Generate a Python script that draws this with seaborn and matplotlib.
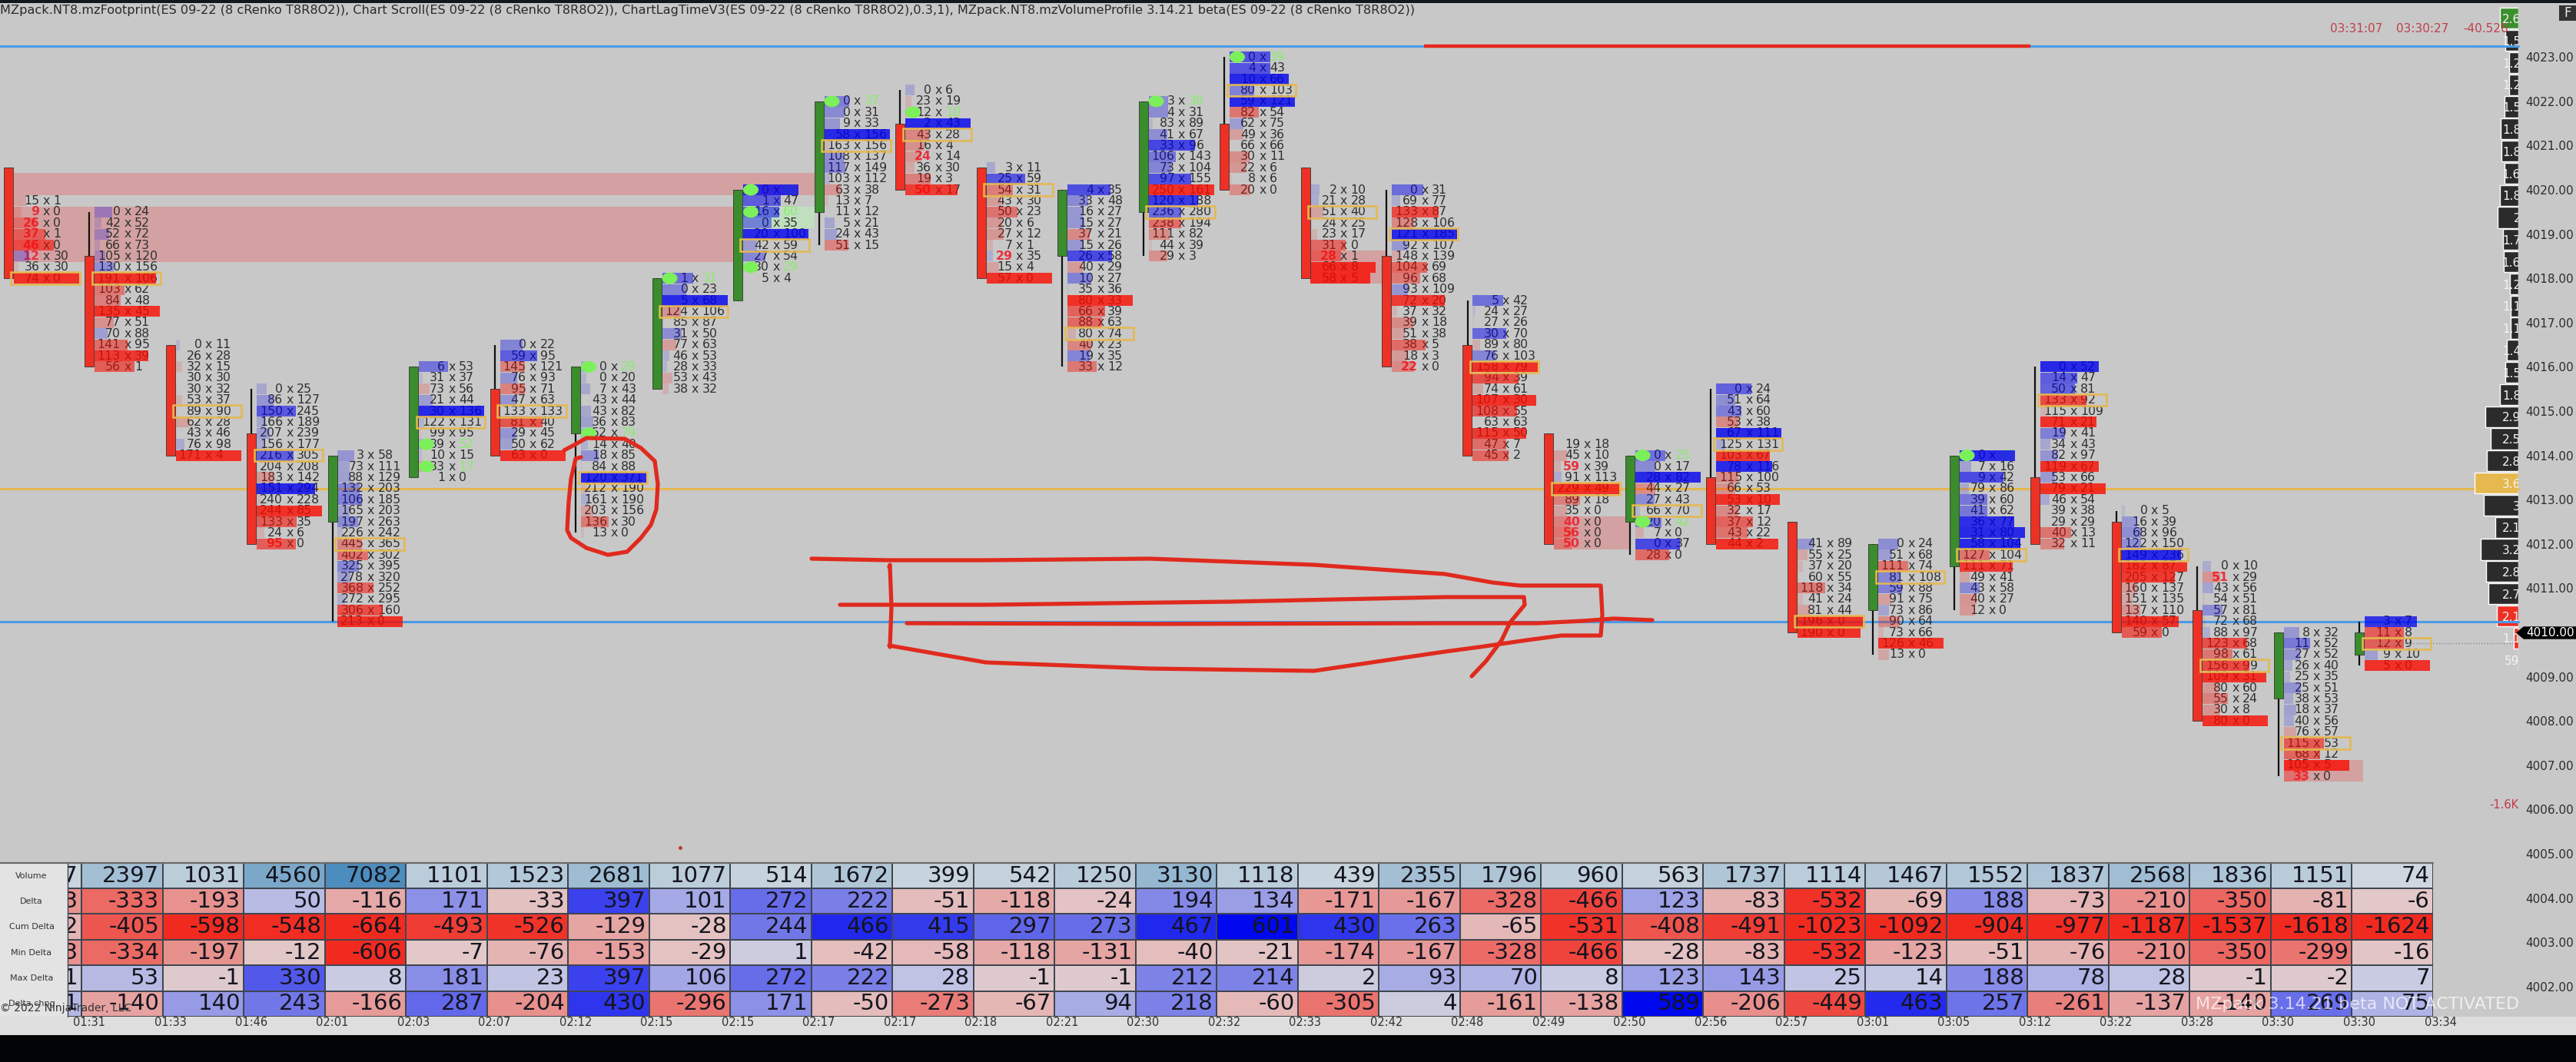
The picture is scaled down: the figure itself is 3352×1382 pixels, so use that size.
import numpy as np
import pandas as pd
import matplotlib
matplotlib.use("Agg")
import matplotlib.pyplot as plt
from matplotlib.colors import LinearSegmentedColormap
from matplotlib.patches import Ellipse, Rectangle
import seaborn as sns

# footprint bars, 0 is the cut off bar on the left edge
candle_open = [4020.5, 4018.5, 4016.5, 4014.5, 4012.5, 4013.5, 4015.5, 4014.5, 4015.5, 4017.5,
               4019.5, 4021.5, 4020.5, 4018.5, 4019.5, 4021.5, 4020.5, 4018.5, 4016.5, 4014.5,
               4012.5, 4013.5, 4012.5, 4010.5, 4011.5, 4013.5, 4012.5, 4010.5, 4008.5, 4009.5]
candle_close = [4018, 4016, 4014, 4012, 4014, 4016, 4014, 4016, 4018, 4020,
                4022, 4020, 4018, 4020, 4022, 4020, 4018, 4016, 4014, 4012,
                4014, 4012, 4010, 4012, 4014, 4012, 4010, 4008, 4010, 4010]
top_price = [4019.75, 4019.5, 4016.5, 4015.5, 4014, 4016, 4016.5, 4016, 4018, 4020,
             4022, 4022.25, 4020.5, 4020, 4022, 4023, 4020, 4020, 4017.5, 4014.25,
             4014, 4015.5, 4012, 4012, 4014, 4016, 4012.75, 4011.5, 4010, 4010.25]
poc_row = [7, 6, 6, 6, 8, 5, 6, 10, 3, 5, 4, 4, 2, 13, 10, 3, 2, 4, 6, 4, 5, 5, 7, 3, 9, 3, 4, 9, 10, 2]

bids = [
    [15, 9, 26, 37, 46, 12, 36, 74],
    [0, 42, 52, 66, 105, 130, 191, 103, 84, 135, 77, 70, 141, 113, 56],
    [0, 26, 32, 30, 30, 53, 89, 62, 43, 76, 171],
    [0, 86, 150, 166, 207, 156, 216, 204, 183, 151, 240, 244, 133, 24, 95],
    [3, 73, 88, 132, 106, 165, 197, 226, 445, 402, 325, 278, 368, 272, 306, 213],
    [6, 31, 73, 21, 30, 122, 99, 39, 10, 33, 1],
    [0, 59, 145, 76, 95, 47, 133, 81, 29, 50, 63],
    [0, 0, 7, 43, 43, 36, 52, 14, 18, 84, 120, 212, 161, 203, 136, 13],
    [1, 0, 5, 124, 85, 31, 77, 46, 28, 53, 38],
    [0, 1, 16, 0, 20, 42, 27, 30, 5],
    [0, 0, 9, 58, 163, 108, 117, 103, 63, 13, 11, 5, 24, 51],
    [0, 23, 12, 2, 43, 16, 24, 36, 19, 50],
    [3, 25, 54, 43, 50, 20, 27, 7, 29, 15, 57],
    [4, 33, 16, 15, 37, 15, 26, 40, 10, 35, 80, 66, 88, 80, 40, 19, 33],
    [3, 4, 83, 41, 33, 106, 73, 97, 250, 120, 236, 238, 111, 44, 29],
    [0, 4, 10, 80, 59, 82, 62, 49, 66, 30, 22, 8, 20],
    [2, 21, 51, 24, 23, 31, 28, 66, 58],
    [0, 69, 133, 128, 121, 92, 148, 104, 96, 93, 72, 37, 39, 51, 38, 18, 22],
    [5, 24, 27, 30, 89, 76, 158, 94, 74, 107, 108, 63, 115, 47, 45],
    [19, 45, 59, 91, 229, 89, 35, 40, 56, 50],
    [0, 0, 28, 44, 27, 66, 20, 7, 0, 28],
    [0, 51, 43, 53, 67, 125, 103, 78, 115, 66, 53, 32, 37, 43, 44],
    [41, 55, 37, 60, 118, 41, 81, 196, 190],
    [0, 51, 111, 81, 59, 91, 73, 90, 73, 126, 13],
    [0, 7, 9, 79, 39, 41, 36, 31, 58, 127, 111, 49, 43, 40, 12],
    [0, 14, 50, 133, 115, 71, 19, 34, 82, 119, 53, 79, 46, 39, 29, 40, 32],
    [0, 16, 68, 122, 149, 182, 205, 160, 151, 137, 140, 59],
    [0, 51, 43, 54, 57, 72, 88, 123, 98, 156, 109, 80, 55, 30, 80],
    [8, 11, 27, 26, 25, 25, 38, 18, 40, 76, 115, 68, 105, 33],
    [3, 11, 12, 9, 5],
]
asks = [
    [1, 0, 0, 1, 0, 30, 30, 0],
    [24, 52, 72, 73, 120, 156, 106, 62, 48, 45, 51, 88, 95, 39, 1],
    [11, 28, 15, 30, 32, 37, 90, 28, 46, 98, 4],
    [25, 127, 245, 189, 239, 177, 305, 208, 142, 294, 228, 85, 35, 6, 0],
    [58, 111, 129, 203, 185, 203, 263, 242, 365, 302, 395, 320, 252, 295, 160, 0],
    [53, 37, 56, 44, 136, 131, 95, 52, 15, 17, 0],
    [22, 95, 121, 93, 71, 63, 133, 40, 45, 62, 0],
    [29, 20, 43, 44, 82, 83, 79, 40, 85, 88, 371, 190, 190, 156, 30, 0],
    [31, 23, 68, 106, 87, 50, 63, 53, 33, 43, 32],
    [68, 47, 60, 35, 100, 59, 54, 29, 4],
    [37, 31, 33, 156, 156, 137, 149, 112, 38, 7, 12, 21, 43, 15],
    [6, 19, 10, 43, 28, 4, 14, 30, 3, 17],
    [11, 59, 31, 30, 23, 6, 12, 1, 35, 4, 0],
    [35, 48, 27, 27, 21, 26, 58, 29, 27, 36, 33, 39, 63, 74, 23, 35, 12],
    [30, 31, 89, 67, 96, 143, 104, 155, 161, 188, 280, 194, 82, 39, 3],
    [39, 43, 66, 103, 121, 54, 75, 36, 66, 11, 6, 6, 0],
    [10, 28, 40, 25, 17, 0, 1, 8, 5],
    [31, 77, 87, 106, 185, 107, 139, 69, 68, 109, 20, 32, 18, 38, 5, 3, 0],
    [42, 27, 26, 70, 80, 103, 79, 39, 61, 30, 55, 63, 50, 7, 2],
    [18, 10, 39, 113, 49, 18, 0, 0, 0, 0],
    [25, 17, 82, 27, 43, 70, 42, 0, 37, 0],
    [24, 64, 60, 38, 111, 131, 67, 116, 100, 53, 10, 17, 12, 22, 2],
    [89, 25, 20, 55, 34, 24, 44, 0, 0],
    [24, 68, 74, 108, 88, 75, 86, 64, 66, 46, 0],
    [42, 16, 42, 86, 60, 62, 77, 80, 104, 104, 71, 41, 58, 27, 0],
    [52, 47, 81, 92, 109, 21, 41, 43, 97, 67, 66, 21, 54, 38, 29, 13, 11],
    [5, 39, 96, 150, 236, 87, 127, 137, 135, 110, 57, 0],
    [10, 29, 56, 51, 81, 68, 97, 68, 61, 99, 31, 60, 24, 8, 0],
    [32, 52, 52, 40, 35, 51, 53, 37, 56, 57, 53, 12, 5, 0],
    [7, 8, 9, 10, 0],
]
# rows with a green dot / red bid text, by bar
dot_rows = {5: [7, 9], 7: [0, 6], 8: [0], 9: [0, 2, 7], 10: [0], 11: [2], 14: [0], 15: [0], 20: [0, 6], 24: [0]}
red_rows = {0: [1, 2, 3, 4, 5], 3: [14], 11: [6, 9], 12: [8], 16: [6], 17: [16], 19: [2, 7, 8, 9], 27: [1], 28: [13]}

zone_x0 = [0.07, 0.07, 19.07, 16.06, 9.06, 28.07]
zone_x1 = [9.95, 8.95, 20.0, 17.0, 9.95, 29.05]
zone_top = [4020.375, 4019.625, 4012.625, 4018.625, 4019.625, 4007.125]
zone_bottom = [4019.875, 4018.375, 4011.875, 4017.875, 4019.125, 4006.625]
zone_color = ["#d3a1a1", "#d3a1a1", "#d3a1a1", "#d3a1a1", "#bfdfbf", "#d3a1a1"]

times = ["01:31", "01:33", "01:46", "02:01", "02:03", "02:07", "02:12", "02:15", "02:15", "02:17",
         "02:17", "02:18", "02:21", "02:30", "02:32", "02:33", "02:42", "02:48", "02:49", "02:50",
         "02:56", "02:57", "03:01", "03:05", "03:12", "03:22", "03:28", "03:30", "03:30", "03:34"]
price_ticks = list(range(4002, 4024))

# table at the bottom
row_names = ["Volume", "Delta", "Cum Delta", "Min Delta", "Max Delta", "Delta chng"]
volume = [317, 2397, 1031, 4560, 7082, 1101, 1523, 2681, 1077, 514, 1672, 399, 542, 1250, 3130, 1118, 439, 2355,
          1796, 960, 563, 1737, 1114, 1467, 1552, 1837, 2568, 1836, 1151, 74]
delta = [-193, -333, -193, 50, -116, 171, -33, 397, 101, 272, 222, -51, -118, -24, 194, 134, -171, -167,
         -328, -466, 123, -83, -532, -69, 188, -73, -210, -350, -81, -6]
cum_delta = [-72, -405, -598, -548, -664, -493, -526, -129, -28, 244, 466, 415, 297, 273, 467, 601, 430, 263,
             -65, -531, -408, -491, -1023, -1092, -904, -977, -1187, -1537, -1618, -1624]
min_delta = [-193, -334, -197, -12, -606, -7, -76, -153, -29, 1, -42, -58, -118, -131, -40, -21, -174, -167,
             -328, -466, -28, -83, -532, -123, -51, -76, -210, -350, -299, -16]
max_delta = [1, 53, -1, 330, 8, 181, 23, 397, 106, 272, 222, 28, -1, -1, 212, 214, 2, 93,
             70, 8, 123, 143, 25, 14, 188, 78, 28, -1, -2, 7]
delta_chng = [61, -140, 140, 243, -166, 287, -204, 430, -296, 171, -50, -273, -67, 94, 218, -60, -305, 4,
              -161, -138, 589, -206, -449, 463, 257, -261, -137, -140, 269, 75]

# volume profile on the right, 0.5 pt bins
vp_price = [4023.875 - 0.5 * k for k in range(30)]
vp_width = [24, 17, 12, 12, 18, 23, 22, 18, 24, 27, 20, 19, 11, 10, 10, 15, 17, 24, 43,
            36, 41, 57, 45, 30, 49, 42, 39, 28, 6, 0]
vp_label = ["2.6K", "1.5K", "1.2K", "1.2K", "1.5K", "1.8K", "1.8K", "1.6K", "1.8K", "2K", "1.7K", "1.6K",
            "1.2K", "1.1K", "1.1K", "1.4K", "1.5K", "1.8K", "2.9K", "2.5K", "2.8K", "3.6K", "3K", "2.1K",
            "3.2K", "2.8K", "2.7K", "2.1K", "1.1K", "59"]
vp_kind = ["up"] + ["base"] * 20 + ["poc"] + ["base"] * 5 + ["down", "down", "base"]

# hand drawn marks, in screen pixels
circle_x = [734, 749, 763, 813, 834, 852, 856, 854, 847, 834, 816, 791, 763, 743, 738, 740, 743, 749, 756]
circle_y = [586, 578, 570, 571, 583, 600, 630, 663, 683, 700, 718, 722, 713, 700, 690, 653, 623, 597, 595]
box_x = [1056, 1157, 1283, 1496, 1710, 1880, 1942, 1978, 2083, 2085, 2083, 2032, 1987, 1925, 1880, 1710, 1496, 1283, 1157]
box_y = [727, 729, 729, 727, 735, 747, 758, 762, 762, 800, 827, 827, 833, 842, 848, 873, 870, 862, 840]
stem_x = [1157, 1158, 1160, 1158]
stem_y = [738, 735, 790, 842]
inner_x = [1093, 1283, 1600, 1880, 1983, 1984, 1965, 1954, 1934, 1915]
inner_y = [787, 787, 783, 777, 777, 787, 810, 833, 860, 880]
mid_x = [1180, 1500, 1880, 2000, 2060, 2100, 2150]
mid_y = [811, 812, 811, 811, 808, 805, 807]

W, H = 3352, 1382
PX = 105.5      # pixels per bar
BG = "#c8c8c8"
RED = (249 / 255, 11 / 255, 0)
BLUE = (0, 0, 240 / 255)
GOLD = "#e5b850"

sns.set_theme(style="white")
plt.rcParams["font.family"] = ["DejaVu Sans"]

fig = plt.figure(figsize=(W / 100, H / 100), dpi=100, facecolor="#000000")


def rect(x0, y0, x1, y1):
    return [x0 / W, 1 - y1 / H, (x1 - x0) / W, (y1 - y0) / H]


ylim = (4010 + (823 - 1347) / 57.6, 4010 + (823 - 4) / 57.6)

ax = fig.add_axes(rect(0, 4, W, 1347), facecolor=BG)
ax.set_xlim(1 - 116 / PX, 1 + (W - 116) / PX)
ax.set_ylim(*ylim)
for s in ax.spines.values():
    s.set_visible(False)

ax.set_xticks(range(1, 31))
ax.set_xticklabels(times, fontsize=10.5, color="#333333")
ax.tick_params(axis="x", length=0, pad=-17)
ax.yaxis.tick_right()
ax.set_yticks(price_ticks)
ax.set_yticklabels([f"{p}.00" for p in price_ticks], fontsize=11, color="#2c2c2c")
ax.tick_params(axis="y", length=0, pad=-47.5)
for lab in ax.get_yticklabels():
    lab.set_ha("left")

# strip under the table
ax.axhspan(ylim[0], 4010 + (823 - 1323) / 57.6, color="#dedede", lw=0, zorder=0)

for x0, x1, y0, y1, c in zip(zone_x0, zone_x1, zone_top, zone_bottom, zone_color):
    ax.add_patch(Rectangle((x0, y1), x1 - x0, y0 - y1, fc=c, ec="none", zorder=1))

line_end = 1 + (3277 - 116) / PX
ax.plot([ax.get_xlim()[0], line_end], [4013.25, 4013.25], color=GOLD, lw=2.2, zorder=1.5)
ax.plot([1 + (3085 - 116) / PX, 1 + (3275 - 116) / PX], [4009.75, 4009.75], color="#8a8a8a", lw=1, ls=":", zorder=6)

for i in range(len(bids)):
    n = len(bids[i])
    prices = [top_price[i] - 0.25 * k for k in range(n)]
    d = np.array(asks[i]) - np.array(bids[i])
    dmax = max(abs(d).max(), 1)
    cx = i

    # wick then body
    hi = max(top_price[i], candle_open[i], candle_close[i])
    lo = min(prices[-1], candle_open[i], candle_close[i])
    ax.plot([cx, cx], [lo, hi], color="#111111", lw=1.6, zorder=5, solid_capstyle="butt")
    up = candle_close[i] > candle_open[i]
    ax.bar(cx, abs(candle_close[i] - candle_open[i]), bottom=min(candle_open[i], candle_close[i]), width=12 / PX,
           color="#3a8c2c" if up else "#ee3124", edgecolor="#333333", linewidth=0.6, zorder=5)

    mid = cx + 50 / PX
    for k, p in enumerate(prices):
        col = "#303030"
        lc = "#e8303c" if k in red_rows.get(i, []) else col
        rc = "#86ee6a" if k in dot_rows.get(i, []) else col
        ax.text(mid - 9 / PX, p, str(bids[i][k]), ha="right", va="center", fontsize=11.3, color=lc, zorder=3,
                fontweight="bold" if lc != col else "normal")
        ax.text(mid, p, "x", ha="center", va="center", fontsize=11.3, color=col, zorder=3)
        ax.text(mid + 9 / PX, p, str(asks[i][k]), ha="left", va="center", fontsize=11.3, color=rc, zorder=3)

        # delta fill sits on top of the text like in the platform
        r = abs(d[k]) / dmax
        if r > 0:
            base = BLUE if d[k] > 0 else RED
            ax.barh(p, r * 85 / PX, left=cx + 7 / PX, height=0.245, color=base + (0.8 * min(1, r * 1.1 + 0.04),),
                    lw=0, zorder=4)

    p = prices[poc_row[i]]
    ax.add_patch(Rectangle((cx + 3.5 / PX, p - 0.135), 89.5 / PX, 0.27, fc="none", ec=GOLD, lw=1.8, zorder=6))
    for k in dot_rows.get(i, []):
        ax.add_patch(Ellipse((cx + 17 / PX, prices[k]), 20 / PX, 0.26, fc="#7cf05a", ec="none", zorder=6))

# volume profile
vp = fig.add_axes(rect(3217, 4, 3277, 1347), facecolor="none")
vp_df = pd.DataFrame({"price": vp_price, "width": vp_width, "kind": vp_kind})
sns.barplot(data=vp_df, x="width", y="price", hue="kind", orient="y", native_scale=True, dodge=False, legend=False,
            palette={"base": "#2b2b2b", "up": "#3c8f2e", "poc": GOLD, "down": "#ee3124"}, width=0.94, saturation=1, ax=vp)
vp.set_xlim(60, 0)
vp.set_ylim(*ylim)
vp.axhline(4023.25, color="#4a9be8", lw=2.2, zorder=5)
vp.axhline(4010.25, color="#4a9be8", lw=2.2, zorder=5)
for p, t in zip(vp_price, vp_label):
    right = -1 if t == "59" else -13
    vp.text(right, p - 0.03, t, ha="right", va="center", fontsize=11, color="#f4f4f4", zorder=6, clip_on=True)
vp.set_axis_off()

ax.plot([ax.get_xlim()[0], line_end], [4023.25, 4023.25], color="#4a9be8", lw=2.2, zorder=2)
ax.plot([ax.get_xlim()[0], line_end], [4010.25, 4010.25], color="#4a9be8", lw=2.2, zorder=2)

# table
vol_cmap = LinearSegmentedColormap.from_list("vol", ["#cfd8df", "#4d8dbd"])
delta_cmap = LinearSegmentedColormap.from_list(
    "dlt", [(0, "#f12a20"), (0.497, "#e2c9c9"), (0.503, "#c9cce2"), (1, "#0008f0")])

t1 = fig.add_axes(rect(0.5, 1123, 3166, 1156))
sns.heatmap(np.array([volume]), ax=t1, cmap=vol_cmap, vmin=0, vmax=7082, cbar=False, annot=True, fmt="d",
            annot_kws={"fontsize": 21, "color": "#15151f"}, linewidths=1.2, linecolor="#3f4650",
            xticklabels=False, yticklabels=False)
t2 = fig.add_axes(rect(0.5, 1156, 3166, 1323))
sns.heatmap(np.array([delta, cum_delta, min_delta, max_delta, delta_chng]), ax=t2, cmap=delta_cmap, vmin=-560, vmax=560,
            cbar=False, annot=True, fmt="d", annot_kws={"fontsize": 21, "color": "#15151f"}, linewidths=1.2,
            linecolor="#3f4650", xticklabels=False, yticklabels=False)
for t in (t1, t2):
    for txt in t.texts:
        x, y = txt.get_position()
        txt.set_position((x + 0.46, y))
        txt.set_ha("right")

# everything that lives in screen space
top = fig.add_axes([0, 0, 1, 1], facecolor="none")
top.set_xlim(0, W)
top.set_ylim(H, 0)
top.set_axis_off()

top.add_patch(Rectangle((0, 0), W, 4, fc="#14171f", ec="none"))
top.add_patch(Rectangle((0, 1347), W, 35, fc="#030406", ec="none"))

# row names column
top.add_patch(Rectangle((0, 1123), 88, 200, fc="#e3e3e3", ec="none"))
top.plot([88, 88], [1123, 1323], color="#3f4650", lw=1)
for k, name in enumerate(row_names):
    top.text(41, 1123 + 33.3 * (k + 0.5), name, ha="center", va="center", fontsize=8, color="#333333")
top.plot([0, 3166], [1123, 1123], color="#6a6a6a", lw=1.6)

top.text(0, 13, "MZpack.NT8.mzFootprint(ES 09-22 (8 cRenko T8R8O2)), Chart Scroll(ES 09-22 (8 cRenko T8R8O2)), "
         "ChartLagTimeV3(ES 09-22 (8 cRenko T8R8O2),0.3,1), MZpack.NT8.mzVolumeProfile 3.14.21 beta(ES 09-22 (8 cRenko T8R8O2))",
         ha="left", va="center", fontsize=11.6, color="#2a2a2a")
for x, s in zip([3032, 3118, 3205], ["03:31:07", "03:30:27", "-40.526"]):
    top.text(x, 37.5, s, ha="left", va="center", fontsize=11, color="#c0404a")
top.text(3277, 1047.5, "-1.6K", ha="right", va="center", fontsize=10.5, color="#c23a4a")

top.add_patch(Rectangle((3330, 7), 22, 20, fc="#333333", ec="none"))
top.text(3341, 17, "F", ha="center", va="center", fontsize=12, color="#eeeeee")

# last price tag
top.fill([3275, 3284, 3352, 3352, 3284], [823.5, 816, 816, 831, 831], color="#000000")
top.text(3287, 823.5, "4010.00", ha="left", va="center", fontsize=11, color="#ffffff")

top.text(0, 1312, "\u00a9 2022 NinjaTrader, LLC", ha="left", va="center", fontsize=10, color="#333333")
top.text(2857, 1307, "MZpack 3.14.21 beta NOT ACTIVATED", ha="left", va="center", fontsize=16, color="#ffffff", alpha=0.7)

top.plot([1853, 2642], [60, 60], color="#e6281c", lw=3.2, solid_capstyle="butt")
for xs, ys in [(circle_x, circle_y), (box_x, box_y), (stem_x, stem_y), (inner_x, inner_y), (mid_x, mid_y)]:
    top.plot(xs, ys, color="#e02a1e", lw=3.8, solid_capstyle="round", solid_joinstyle="round")
top.plot([885], [1103], marker="o", ms=2.5, color="#c0303a")

fig.savefig("out.png", dpi=100, facecolor=fig.get_facecolor())
plt.close(fig)
